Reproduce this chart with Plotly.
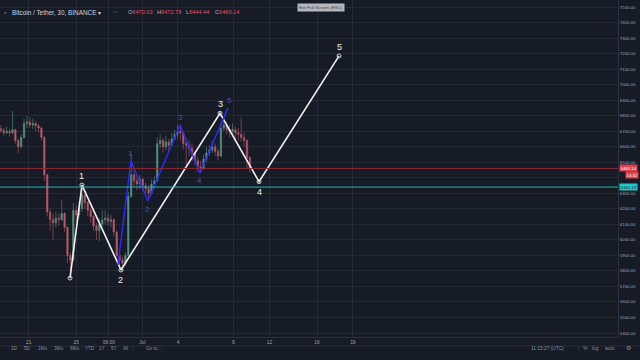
import plotly.graph_objects as go

# ---------------- data ----------------
# time axis: days since 2018-06-21 00:00, 6-hour candles
candle_day = [round(-2.4 + 0.25 * i, 2) for i in range(87)]
first_open = 6715
close = [6705, 6690, 6700, 6690, 6710, 6640, 6600, 6660, 6750, 6760,
         6740, 6750, 6735, 6720, 6660, 6420, 6180, 6130, 6110, 6140,
         6130, 6170, 6080, 5900, 5870, 6190, 6160, 6200, 6290, 6240,
         6190, 6150, 6090, 6060, 6100, 6130, 6140, 6120, 6130, 6050,
         5900, 5870, 5850, 5900, 6280, 6420, 6380, 6360, 6390, 6350,
         6330, 6300, 6360, 6380, 6620, 6640, 6600, 6630, 6610, 6650,
         6680, 6700, 6690, 6620, 6610, 6590, 6560, 6510, 6470, 6460,
         6520, 6560, 6580, 6600, 6570, 6540, 6720, 6740, 6710, 6700,
         6710, 6690, 6680, 6660, 6640, 6530, 6460]
high = [6740, 6720, 6730, 6715, 6830, 6715, 6650, 6680, 6780, 6800,
        6790, 6780, 6765, 6750, 6730, 6670, 6420, 6200, 6170, 6180,
        6170, 6260, 6180, 6090, 5920, 6240, 6220, 6250, 6355, 6300,
        6250, 6210, 6160, 6110, 6140, 6190, 6190, 6170, 6160, 6140,
        6060, 5920, 5890, 5920, 6310, 6560, 6450, 6410, 6420, 6400,
        6370, 6350, 6390, 6410, 6660, 6680, 6660, 6670, 6650, 6690,
        6710, 6740, 6745, 6700, 6650, 6640, 6620, 6570, 6530, 6510,
        6550, 6600, 6610, 6640, 6620, 6590, 6760, 6780, 6760, 6740,
        6750, 6730, 6720, 6790, 6690, 6650, 6540]
low = [6690, 6670, 6680, 6665, 6680, 6620, 6560, 6590, 6650, 6720,
       6720, 6715, 6700, 6690, 6640, 6380, 6150, 6060, 6000, 6080,
       6090, 6120, 6050, 5850, 5755, 5860, 6120, 6140, 6180, 6200,
       6150, 6110, 6060, 6000, 5990, 6080, 6100, 6090, 6080, 6020,
       5870, 5830, 5805, 5830, 5890, 6270, 6340, 6320, 6330, 6320,
       6300, 6270, 6290, 6330, 6370, 6590, 6560, 6580, 6570, 6600,
       6640, 6650, 6640, 6580, 6480, 6540, 6510, 6480, 6440, 6430,
       6450, 6500, 6540, 6560, 6540, 6510, 6530, 6700, 6680, 6660,
       6670, 6650, 6640, 6630, 6600, 6460, 6430]
open_ = [first_open] + close[:-1]

# big Elliott wave (white)
white_day = [3.57, 4.60, 7.97, 16.52, 19.89, 26.80]
white_price = [5754, 6353, 5806, 6815, 6375, 7185]
white_label = ["", "1", "2", "3", "4", "5"]
white_label_pos = ["", "above", "below", "above", "below", "above"]

# sub wave (blue)
blue_day = [7.71, 8.83, 10.30, 13.07, 14.79, 17.21]
blue_price = [5838, 6510, 6250, 6740, 6431, 6850]
blue_label = ["", "1", "2", "3", "4", "5"]
blue_label_pos = ["", "above", "below", "above", "below", "above"]

# horizontal levels
last_price = 6460.14
support_level = 6340.18

# axis ticks
time_tick_day = [0, 4.11, 6.93, 9.82, 12.89, 17.68, 20.79, 24.9, 27.99]
time_tick_text = ["21", "25", "06:00", "Jul", "4", "9", "12", "16", "19"]
price_ticks = list(range(5400, 7600, 100))
hidden_price_ticks = [6400]  # covered by the price boxes on the axis
price_tick_text = ["" if p in hidden_price_ticks else f"{p}.00" for p in price_ticks]

header_title = "Bitcoin / Tether, 30, BINANCE ▾"
ohlc_letters = ["O", "H", "L", "C"]
ohlc_values = ["6470.03", "6472.78", "6444.44", "6460.14"]
range_buttons = ["1D", "5D", "1Mo", "3Mo", "6Mo", "YTD", "1Y", "5Y", "All"]

# ---------------- styling ----------------
BG = "#171b26"
GRID = "#242834"
TXT = "#a3a6af"
W, H = 640, 360
PLOT_W, PLOT_H = 618, 337

fig = go.Figure()

fig.add_trace(go.Candlestick(
    x=candle_day, open=open_, high=high, low=low, close=close,
    increasing=dict(line=dict(color="#5c9f88", width=0.6), fillcolor="#5c9f88"),
    decreasing=dict(line=dict(color="#c8606e", width=0.6), fillcolor="#c8606e"),
    whiskerwidth=0, opacity=0.9, showlegend=False, hoverinfo="skip"))

fig.add_trace(go.Scatter(
    x=white_day, y=white_price, mode="lines+markers",
    line=dict(color="#f2f2f2", width=1.6),
    marker=dict(symbol="circle-open", size=4, color="#d0d0d0", line=dict(width=1)),
    showlegend=False, hoverinfo="skip"))

fig.add_trace(go.Scatter(
    x=blue_day, y=blue_price, mode="lines",
    line=dict(color="#2b2bf5", width=1.5),
    showlegend=False, hoverinfo="skip"))

shapes = []
shapes.append(dict(type="line", xref="paper", yref="y", x0=0, x1=1,
                   y0=last_price, y1=last_price, line=dict(color="#8c2a36", width=1)))
shapes.append(dict(type="line", xref="paper", yref="y", x0=0, x1=1,
                   y0=support_level, y1=support_level, line=dict(color="#20b8b8", width=1)))
# bottom toolbar separator
shapes.append(dict(type="line", xref="paper", yref="paper", x0=0, x1=W / PLOT_W,
                   y0=(PLOT_H - 346) / PLOT_H, y1=(PLOT_H - 346) / PLOT_H,
                   line=dict(color="#2c303c", width=1)))

annotations = []
for d, p, t, pos in zip(white_day, white_price, white_label, white_label_pos):
    if t:
        annotations.append(dict(x=d, y=p, text=t, showarrow=False,
                                yshift=9 if pos == "above" else -10,
                                font=dict(color="#f0f0f0", size=9, family="Arial")))
for d, p, t, pos in zip(blue_day, blue_price, blue_label, blue_label_pos):
    if t:
        annotations.append(dict(x=d, y=p, text=t, showarrow=False,
                                xshift=2 if t == "5" else 0,
                                yshift=7 if pos == "above" else -8,
                                font=dict(color="#4a4acb", size=8, family="Arial")))

def px(xp):
    return xp / PLOT_W

def py(yp):
    return (PLOT_H - yp) / PLOT_H

# header
annotations.append(dict(xref="paper", yref="paper", x=px(2), y=py(7), text="▪",
                        showarrow=False, xanchor="left", font=dict(color="#6b6f7a", size=7)))
annotations.append(dict(xref="paper", yref="paper", x=px(10), y=py(7), text=header_title,
                        showarrow=False, xanchor="left",
                        font=dict(color="#d1d4dc", size=6.4, family="Arial")))
annotations.append(dict(xref="paper", yref="paper", x=px(111), y=py(7), text="▫▫",
                        showarrow=False, xanchor="left", font=dict(color="#6b6f7a", size=6)))
for i, (l, v) in enumerate(zip(ohlc_letters, ohlc_values)):
    annotations.append(dict(xref="paper", yref="paper", x=px(126 + 29 * i), y=py(7),
                            text=f"<span style='color:#b2b5be'>{l}</span>"
                                 f"<span style='color:#e0505f'>{v}</span>",
                            showarrow=False, xanchor="left",
                            font=dict(size=5.6, family="Arial")))
annotations.append(dict(xref="paper", yref="paper", x=px(321), y=py(3.5),
                        text="Exit Full Screen (ESC)", showarrow=False,
                        bgcolor="#b4b7be", borderpad=1,
                        font=dict(color="#3c404a", size=4.3, family="Arial")))

# price axis boxes
annotations.append(dict(xref="paper", yref="y", x=1, y=last_price, xanchor="left",
                        xshift=1, text="6460.14", showarrow=False, bgcolor="#e0404f",
                        borderpad=0.5, font=dict(color="#ffffff", size=4.3, family="Arial")))
annotations.append(dict(xref="paper", yref="y", x=1, y=last_price, xanchor="left",
                        xshift=7, yshift=-7, text="14:32", showarrow=False, bgcolor="#e0404f",
                        borderpad=0.5, font=dict(color="#ffffff", size=4.3, family="Arial")))
annotations.append(dict(xref="paper", yref="y", x=1, y=support_level, xanchor="left",
                        xshift=1, text="6340.18", showarrow=False, bgcolor="#22c8c8",
                        borderpad=0.5, font=dict(color="#0d3030", size=4.3, family="Arial")))

# bottom toolbar
btn_x = [9, 22, 36, 52, 68, 83, 97, 109, 121]
for b, xb in zip(range_buttons, btn_x):
    annotations.append(dict(xref="paper", yref="paper", x=px(xb), y=py(353), text=b,
                            showarrow=False, font=dict(color="#8a8e99", size=4.6, family="Arial")))
annotations.append(dict(xref="paper", yref="paper", x=px(130), y=py(353), text="|",
                        showarrow=False, font=dict(color="#3a3e4a", size=6)))
annotations.append(dict(xref="paper", yref="paper", x=px(144), y=py(353), text="Go to...",
                        showarrow=False, font=dict(color="#8a8e99", size=4.6, family="Arial")))
for t, xb in [("11:15:27 (UTC)", 566), ("|", 582), ("%", 590), ("log", 601),
              ("auto", 617), ("⚙", 633)]:
    annotations.append(dict(xref="paper", yref="paper", x=px(xb), y=py(353), text=t,
                            showarrow=False,
                            font=dict(color="#3a3e4a" if t == "|" else "#8a8e99",
                                      size=6 if t in ("|", "⚙") else 4.8, family="Arial")))

fig.update_layout(
    width=W, height=H,
    margin=dict(l=0, r=W - PLOT_W, t=0, b=H - PLOT_H),
    paper_bgcolor=BG, plot_bgcolor=BG,
    shapes=shapes, annotations=annotations,
    xaxis=dict(range=[-28.7 / 11.58, (PLOT_W - 28.7) / 11.58],
               tickvals=time_tick_day, ticktext=time_tick_text,
               tickfont=dict(color=TXT, size=4.8, family="Arial"),
               showgrid=True, gridcolor=GRID, gridwidth=1, zeroline=False,
               showline=True, linecolor="#2c303c", ticks="", ticklabelstandoff=0,
               rangeslider=dict(visible=False), fixedrange=True),
    yaxis=dict(range=[5374.3, 7545.1], side="right",
               tickvals=price_ticks, ticktext=price_tick_text,
               tickfont=dict(color=TXT, size=4.3, family="Arial"),
               showgrid=True, gridcolor=GRID, gridwidth=1, zeroline=False,
               showline=True, linecolor="#2c303c", ticks="", fixedrange=True),
    font=dict(family="Arial"),
)

fig.write_html("out.html")
